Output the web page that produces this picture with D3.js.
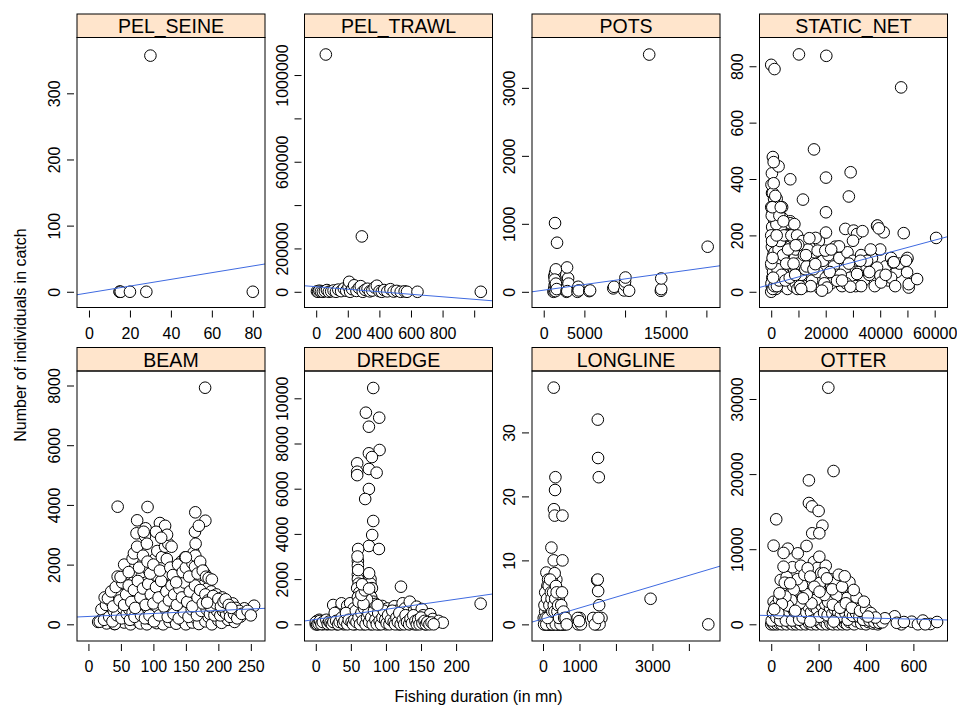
<!DOCTYPE html>
<html>
<head>
<meta charset="utf-8">
<script src="https://cdn.jsdelivr.net/npm/d3@7"></script>
<style>
body { margin: 0; background: #fff; }
svg { font-family: "Liberation Sans", Arial, Helvetica, sans-serif; }
</style>
</head>
<body>
<svg id="chart" width="957" height="708"></svg>
<script>
const gears = ['PEL_SEINE', 'PEL_TRAWL', 'POTS', 'STATIC_NET', 'BEAM', 'DREDGE', 'LONGLINE', 'OTTER'];

// axis limits
const xLims = [[-5.85, 85.95], [-74, 1116], [-1441, 21675], [-4301, 64706],
               [-17.6, 271.8], [-16.1, 251.9], [-302, 4854], [-49.5, 744]];
const yLims = [[-23.8, 384.4], [-72500, 1173200], [-231, 3741], [-55.8, 902],
               [-559, 8486], [-739, 11208], [-2.6, 39.6], [-2224, 33728]];

const xTicks = [[0, 20, 40, 60, 80], [0, 200, 400, 600, 800, 1000], [0, 5000, 10000, 15000, 20000],
                [0, 10000, 20000, 30000, 40000, 50000, 60000], [0, 50, 100, 150, 200, 250],
                [0, 50, 100, 150, 200], [0, 1000, 2000, 3000, 4000], [0, 200, 400, 600]];
const xTickLabels = [['0', '20', '40', '60', '80'], ['0', '200', '400', '600', '800', ''],
                     ['0', '5000', '', '15000', ''], ['0', '', '20000', '', '40000', '', '60000'],
                     ['0', '50', '100', '150', '200', '250'], ['0', '50', '100', '150', '200'],
                     ['0', '1000', '', '3000', ''], ['0', '200', '400', '600']];
const yTicks = [[0, 100, 200, 300], [0, 200000, 400000, 600000, 800000, 1000000], [0, 1000, 2000, 3000],
                [0, 200, 400, 600, 800], [0, 2000, 4000, 6000, 8000], [0, 2000, 4000, 6000, 8000, 10000],
                [0, 10, 20, 30], [0, 10000, 20000, 30000]];
const yTickLabels = [['0', '100', '200', '300'], ['0', '200000', '', '600000', '', '1000000'],
                     ['0', '1000', '2000', '3000'], ['0', '200', '400', '600', '800'],
                     ['0', '2000', '4000', '6000', '8000'], ['0', '2000', '4000', '6000', '8000', '10000'],
                     ['0', '10', '20', '30'], ['0', '10000', '20000', '30000']];

// linear fit [intercept, slope] per gear
const fitLines = [[-1.54, 0.5065], [23400, -58.2], [23.9, 0.01657], [26.5, 0.00261],
                  [262.7, 1.005], [218, 4.459], [0.87, 0.001695], [1159, -0.788]];

// [duration, count]
const pelSeine = [[15, 0], [15, 0], [15.5, 0], [20, 0], [28, 0], [80, 0], [30, 357]];

const pelTrawl = [[5, 2000], [12, 0], [20, 5000], [30, 1000], [42, 0], [55, 3000], [68, 8000], [80, 0], [95, 2000],
  [110, 6000], [125, 0], [140, 10000], [158, 3000], [175, 15000], [190, 5000], [205, 22000], [209, 46000], [215, 0],
  [228, 12000], [240, 30000], [255, 4000], [270, 18000], [282, 26000], [295, 0], [310, 9000], [325, 14000], [340, 2000],
  [355, 6000], [370, 20000], [384, 28000], [400, 3000], [415, 0], [430, 8000], [450, 2000], [470, 12000], [490, 1000],
  [510, 4000], [535, 0], [560, 2000], [575, 0], [641, 0], [1042, 0], [61, 1094700], [289, 255400]];

const pots = [[1200, 0], [1250, 20], [1300, 50], [1350, 100], [1400, 150], [1450, 200], [1300, 230], [1400, 280],
  [1500, 330], [1450, 10], [1550, 60], [1350, 180], [1500, 120], [1600, 40], [1392, 1011], [1638, 722], [2800, 0],
  [2850, 30], [2900, 80], [2950, 150], [3000, 200], [2870, 358], [3050, 120], [2900, 10], [4150, 0], [4200, 40],
  [4250, 74], [4300, 20], [5600, 10], [5700, 20], [8550, 50], [8650, 74], [9900, 20], [9975, 100], [10000, 150],
  [10050, 210], [10500, 15], [14400, 15], [14450, 40], [14450, 196], [12968, 3490], [20160, 663]];

const staticNet = [[0, 0], [200, 20], [400, 50], [600, 100], [800, 150], [1000, 200], [1200, 250], [1500, 300],
  [300, 350], [500, 280], [700, 220], [900, 160], [1100, 120], [1300, 80], [1500, 40], [1700, 10], [2000, 60],
  [2200, 110], [2400, 170], [2600, 230], [2800, 290], [3000, 30], [3300, 90], [3600, 140], [3900, 200], [4200, 260],
  [4500, 20], [4800, 70], [5100, 130], [5400, 180], [5700, 240], [6000, 10], [6300, 60], [6600, 110], [6900, 160],
  [7200, 40], [7500, 90], [7800, 140], [8100, 20], [8400, 70], [8700, 120], [9000, 30], [9300, 80], [9600, 10],
  [9900, 50], [100, 380], [250, 420], [1000, 300], [2000, 330], [2500, 260], [3500, 230], [4000, 100], [5000, 50],
  [6000, 200], [7000, 250], [8000, 190], [9000, 150], [10000, 100], [11000, 60], [12000, 130], [13000, 20],
  [14000, 90], [15000, 40], [16000, 140], [17000, 70], [18000, 10], [19000, 110], [20000, 50], [21000, 130],
  [22000, 30], [23000, 90], [24000, 60], [25000, 120], [26000, 20], [27000, 80], [28000, 140], [29000, 50],
  [30000, 110], [31000, 20], [32000, 70], [33000, 130], [34000, 40], [35000, 90], [36000, 60], [37000, 120],
  [38000, 20], [39000, 80], [40000, 150], [42000, 90], [43000, 40], [44000, 120], [46000, 70], [47000, 100],
  [100, 30], [150, 90], [250, 160], [350, 230], [450, 300], [550, 10], [650, 70], [750, 130], [850, 190], [950, 260],
  [1050, 330], [1150, 20], [1250, 140], [1350, 200], [1450, 270], [1600, 100], [1800, 180], [1900, 240], [2100, 20],
  [2300, 80], [2700, 150], [2900, 40], [3200, 180], [3800, 60], [4300, 130], [4700, 200], [5200, 40], [5500, 100],
  [6200, 150], [6800, 50], [7400, 200], [8200, 100], [8800, 60], [9500, 200], [10500, 20], [11500, 180], [12500, 80],
  [13500, 150], [14500, 20], [0, 100], [0, 200], [0, 300], [200, 270], [600, 350], [300, 180], [500, 120], [700, 50],
  [3000, 270], [2000, 200], [4000, 300], [11000, 10], [13000, 90], [15500, 80], [17500, 180], [19500, 30],
  [21500, 70], [23500, 160], [25500, 60], [27500, 30], [28500, 100], [33000, 20], [36500, 150], [44000, 50],
  [45500, 20],
  [16290, 191], [17030, 146], [12750, 130], [9925, 166], [6984, 243], [16170, 98], [19850, 146], [20100, 210],
  [24880, 161], [27200, 223], [30260, 217], [31490, 205], [30020, 181], [35180, 110], [38850, 86], [40070, 57],
  [40320, 33], [41290, 211], [38850, 234], [44730, 104], [48640, 208], [49870, 116], [49870, 69], [50480, 15],
  [50480, 27], [53550, 45], [60540, 191], [31490, 63], [32720, 110], [29040, 18], [24150, 39], [20470, 15],
  [18640, 4], [0, 805], [1200, 790], [10180, 842], [20220, 837], [47680, 725], [15700, 505], [20100, 405],
  [29150, 424], [28500, 338], [20100, 282], [11650, 327], [7000, 399], [2700, 445], [600, 478], [900, 460],
  [900, 385], [400, 300], [1500, 340], [3500, 300], [4500, 250], [8500, 240], [9000, 165], [14000, 190],
  [33500, 215], [39000, 235], [39500, 225], [50000, 120], [49500, 110], [45000, 105], [42000, 60], [36000, 70],
  [22000, 150], [26000, 40]];

const beam = [[15, 80], [22, 200], [28, 30], [35, 350], [40, 10], [45, 150], [50, 420], [55, 60], [60, 250], [65, 0],
  [70, 380], [75, 120], [80, 30], [85, 300], [90, 0], [95, 180], [100, 420], [105, 40], [110, 260], [115, 0],
  [120, 350], [125, 90], [130, 200], [135, 20], [140, 400], [145, 120], [150, 0], [155, 300], [160, 60], [165, 210],
  [170, 10], [175, 380], [180, 100], [185, 250], [190, 0], [195, 330], [200, 130], [205, 50], [210, 280], [215, 150],
  [220, 400], [225, 80], [230, 300], [234, 255], [240, 536], [255, 623], [40.7, 10], [17.5, 87], [30, 370],
  [20, 500], [24, 150], [27, 650], [32, 250], [33, 800], [37, 100], [39, 450], [43, 700], [44, 300], [47, 1000],
  [51, 200], [53, 550], [57, 850], [59, 350], [61, 1100], [63, 500], [64, 150], [67, 900], [68, 400], [69, 1400],
  [71, 250], [73, 800], [74, 1700], [77, 500], [79, 1200], [81, 300], [82, 1600], [83, 700], [86, 1000], [87, 200],
  [89, 1400], [91, 550], [93, 1800], [94, 300], [97, 1200], [98, 800], [99, 1500], [101, 100], [102, 1000],
  [103, 2200], [105, 600], [107, 1600], [109, 300], [111, 1100], [113, 700], [114, 2000], [117, 1300], [119, 500],
  [121, 1700], [122, 250], [125, 1100], [127, 600], [129, 1900], [131, 350], [133, 1400], [134, 800], [137, 1100],
  [139, 200], [141, 1600], [142, 600], [143, 2100], [146, 1000], [147, 400], [149, 1700], [151, 800], [153, 1300],
  [154, 250], [157, 900], [158, 1500], [159, 500], [161, 1100], [162, 2400], [163, 700], [166, 1600], [167, 300],
  [169, 1200], [171, 800], [173, 1900], [174, 450], [177, 1300], [178, 900], [179, 1700], [182, 500], [183, 1200],
  [186, 900], [187, 350], [189, 1100], [191, 550], [193, 800], [194, 300], [197, 1000], [198, 450], [201, 700],
  [203, 300], [206, 900], [207, 450], [209, 600], [212, 350], [213, 700], [217, 450], [218, 250], [222, 700],
  [224, 350], [227, 550], [229, 200], [232, 450], [236, 350], [245, 450], [250, 300],
  [25, 900], [30, 871], [35, 1100], [38, 600], [42, 1250], [48, 800], [52, 1400], [55, 650], [58, 1000], [62, 1300],
  [66, 750], [70, 1150], [72, 550], [76, 1450], [80, 900], [84, 1200], [88, 650], [92, 1350], [96, 1000], [100, 700],
  [104, 1250], [108, 900], [112, 1450], [116, 600], [120, 1100], [124, 800], [128, 1300], [132, 1000], [136, 650],
  [140, 1200], [144, 900], [148, 1400], [152, 750], [156, 1100], [160, 600], [164, 1300], [168, 900], [172, 1150],
  [176, 700], [180, 1000], [184, 800], [188, 600], [192, 950], [196, 700], [200, 850], [204, 600], [208, 750],
  [211, 837], [216, 650], [220, 550], [182.7, 724],
  [45, 1600], [49.5, 1585], [55, 2000], [62, 1750], [68, 2200], [70, 2378], [75, 2600], [74, 3048], [78, 1900],
  [84, 2300], [87, 2960], [88, 3216], [90, 2700], [91, 2100], [95, 1700], [100, 2000], [106, 2455], [110, 1800],
  [113, 2250], [118, 2600], [120.7, 2188], [123, 2700], [126, 1900], [130, 1650], [135, 1407], [138, 2000],
  [145, 1750], [149, 2245], [150, 1900], [155, 1600], [160, 2050], [164, 1930], [164.5, 2300], [165, 2700],
  [168, 1700], [172, 2100], [176, 1800], [181, 1595], [185, 1550], [190, 1500],
  [45, 3940], [91, 3930], [75, 3484], [110, 3393], [118, 3300], [121, 3000], [164.5, 3752], [180, 3470],
  [164, 3100], [179.6, 7926], [85, 3100], [104, 3100], [112, 2900], [128, 2600], [150, 2244], [170, 3300]];

const dredge = [[0, 0], [1, 50], [2, 150], [3, 0], [4, 100], [5, 200], [6, 30], [8, 80], [10, 0], [12, 120], [14, 40],
  [16, 0], [18, 60], [20, 10], [22, 150], [24.8, 854], [26, 40], [28, 300], [30, 0], [31.9, 560], [33, 200], [35, 50],
  [36.7, 929], [38, 400], [40, 0], [42, 250], [44.8, 823], [46, 100], [48, 600], [49, 930], [50, 30], [52, 350],
  [54, 700], [56, 0], [58, 450], [59, 190], [62, 80], [64, 600], [66, 250], [68, 0], [70, 400], [72, 750], [74, 150],
  [77, 708], [78, 0], [80, 500], [82, 280], [84, 60], [86, 850], [88, 350], [90, 0], [92, 600], [94.8, 810], [96, 115],
  [98, 400], [100, 0], [102, 700], [104, 250], [106, 500], [108, 50], [110, 350], [112, 800], [114, 150], [116, 600],
  [118, 0], [120, 10], [122, 450], [123.8, 929], [125, 300], [127, 700], [129, 100], [131, 550], [134, 1000],
  [134, 10], [136, 400], [138, 200], [140, 600], [141, 0], [143.8, 779], [145, 300], [147, 50], [151, 677],
  [151, 110], [153, 400], [156, 0], [158, 250], [160, 100], [163, 450], [166.7, 235], [170, 50], [175, 150], [181, 71],
  [0, 100], [2, 0], [4, 30], [6, 150], [8, 10], [10, 100], [15, 200], [17, 20], [19, 120], [21, 60], [23, 0],
  [25, 100], [27, 500], [29, 150], [32, 0], [34, 100], [37, 300], [39, 50], [41, 150], [43, 500], [45, 0], [47, 200],
  [51, 100], [53, 0], [55, 200], [57, 600], [58, 100], [61, 300], [63, 0], [65, 500], [67, 150], [69, 700], [71, 0],
  [73, 300], [75, 500], [76, 100], [79, 300], [81, 0], [83, 600], [85, 200], [87, 0], [89, 500], [91, 150], [93, 0],
  [95, 300], [97, 600], [99, 200], [101, 50], [103, 400], [105, 0], [107, 200], [109, 600], [111, 100], [113, 0],
  [115, 300], [117, 100], [119, 500], [121, 0], [124, 200], [126, 0], [128, 400], [130, 100], [133, 0], [135, 250],
  [137, 50], [139, 400], [142, 150], [144, 0], [146, 200], [148, 0], [150, 300], [152, 50], [155, 150], [157, 0],
  [159, 100], [162, 0], [165, 80], [168, 0],
  [60, 2800], [60, 2600], [60, 2200], [60, 2000], [61, 1800], [59, 1600], [62, 1400], [60, 1200], [61, 1000],
  [78, 2000], [78, 1800], [80, 1600], [76, 1400], [79, 1200], [82, 1000], [85, 900], [88, 850], [73, 1100],
  [68, 900], [65, 1300], [70, 1500],
  [81.9, 10456], [71.4, 9363], [90.4, 9142], [75.7, 8743], [90.9, 7712], [75.7, 7566], [80, 7400], [59, 7124],
  [59, 6752], [59, 6600], [75.7, 6872], [86.7, 6708], [75.7, 5987], [70.4, 5544], [81.9, 4571], [80.4, 3951],
  [75.7, 3465], [90, 3332], [60.4, 3332], [59.5, 3000], [60.4, 2400], [76, 2260], [66, 1770], [76, 1580],
  [121.4, 1664], [235, 912]];

const longline = [[93, 8.1], [140, 7], [365, 7], [203, 4.9], [184, 2.9], [330, 1.6], [458, 2.9], [533, 0], [110, 0],
  [50, 0], [20, 1], [60, 2], [80, 3], [100, 5], [120, 6], [150, 4], [170, 0], [190, 1], [210, 3], [230, 0], [250, 6],
  [270, 2], [290, 4], [310, 0], [330, 5], [350, 1], [370, 3], [390, 0], [410, 2], [430, 4], [450, 0], [470, 1],
  [490, 2], [510, 0], [550, 1], [570, 0], [600, 0], [260, 0], [280, 1], [140, 0], [160, 2], [180, 5], [200, 0],
  [220, 2], [240, 7], [320, 8], [300, 6], [380, 1], [420, 0], [30, 0], [70, 1], [90, 0], [130, 3], [250, 0], [350, 0],
  [480, 0], [40, 3], [60, 5], [110, 4], [125, 1], [155, 6], [175, 3], [195, 7], [215, 5], [235, 4], [255, 2],
  [275, 5], [295, 3], [315, 2], [335, 4], [355, 6], [375, 5], [395, 2], [415, 3], [440, 1], [500, 3], [520, 5],
  [560, 2], [580, 1], [620, 1], [650, 0],
  [963, 0], [1008, 1], [950, 1], [1040, 0], [990, 0.5], [1485, 6.9], [1512, 5.2], [1540, 3], [1375, 1],
  [1604, 1], [1466, 0], [1500, 7], [1550, 0], [1420, 0], [1520, 1],
  [294, 37], [1503, 32], [1510, 26], [1530, 23], [340, 23], [330, 21], [300, 18], [320, 17], [533, 17], [230, 12],
  [294, 10], [533, 10], [2950, 4], [4533, 0]];

const otter = [[0, 0], [5, 200], [8, 800], [12, 0], [15, 1200], [20, 300], [25, 0], [30, 700], [35, 100], [40, 1500],
  [45, 0], [50, 900], [55, 300], [60, 1200], [65, 0], [70, 600], [75, 1500], [80, 200], [85, 900], [90, 0], [95, 1300],
  [100, 400], [105, 0], [110, 1000], [115, 200], [120, 1600], [125, 0], [130, 700], [135, 300], [140, 1200], [145, 0],
  [150, 800], [155, 1800], [160, 100], [165, 1000], [170, 0], [175, 600], [180, 1400], [185, 300], [190, 0],
  [195, 900], [200, 1700], [205, 200], [210, 600], [215, 0], [220, 1100], [225, 300], [230, 1900], [235, 0],
  [240, 700], [245, 1300], [250, 100], [255, 800], [260, 0], [265, 1500], [270, 400], [275, 900], [280, 0],
  [285, 1200], [290, 300], [295, 700], [300, 0], [305, 1000], [310, 200], [315, 500], [320, 0], [325, 900],
  [330, 300], [340, 700], [350, 0], [360, 400], [370, 800], [380, 100], [390, 500], [400, 0], [410, 300], [420, 700],
  [430, 100], [440, 400], [450, 0],
  [2, 500], [7, 1500], [10, 3000], [18, 2500], [22, 900], [27, 2200], [33, 3300], [38, 500], [43, 2000], [48, 3500],
  [53, 1800], [58, 2600], [62, 500], [67, 3000], [72, 1800], [78, 4000], [83, 2300], [88, 500], [93, 2800],
  [98, 1700], [103, 3600], [108, 2300], [113, 4400], [118, 600], [123, 3200], [128, 2000], [133, 900], [138, 2600],
  [143, 4800], [148, 1600], [153, 3000], [158, 2300], [163, 5200], [168, 1600], [173, 3800], [178, 2400], [183, 600],
  [188, 4200], [193, 2000], [198, 2900], [203, 1000], [208, 3600], [213, 2500], [218, 4800], [223, 1500],
  [228, 2700], [233, 4300], [238, 1200], [243, 3400], [248, 2200], [253, 5000], [258, 1400], [263, 3100],
  [268, 2000], [273, 700], [278, 2800], [283, 1600], [288, 4200], [293, 1100], [298, 3000], [303, 2000], [308, 3800],
  [313, 1500], [318, 2300], [323, 600], [328, 4000], [333, 1400], [338, 3000], [345, 1100], [352, 2500], [358, 1500],
  [365, 2800], [372, 1000], [380, 2200], [388, 600], [395, 1300], [405, 1400], [415, 500], [425, 1000], [435, 300],
  [445, 700], [455, 200],
  [469, 266], [521, 1065], [549, 0], [593, 346], [619, 0], [672, 40], [700, 306], [480, 800], [530, 200], [560, 300],
  [640, 500], [650, 0],
  [180, 8300], [195, 7500], [210, 6800], [230, 7800], [250, 6000], [270, 5500], [285, 6600], [300, 4000],
  [320, 3500], [330, 5600], [275, 3800], [240, 3000], [190, 3300], [170, 2800], [150, 4000], [130, 5200],
  [120, 2800], [110, 6000], [95, 4600], [85, 3200], [70, 2500], [60, 3700], [45, 2700], [30, 1500], [40, 5900],
  [65, 6300], [90, 7600], [125, 7800], [140, 6600], [205, 5500], [225, 3900], [260, 2600], [290, 2200], [315, 2800],
  [340, 2200], [360, 3600], [375, 1800], [400, 2000], [420, 1500], [440, 900],
  [241, 31505], [263, 20410], [159, 19170], [159, 16150], [172, 15700], [200, 15090], [216, 13130], [173, 12120],
  [203, 12120], [21, 13980], [10, 10470], [70, 10070], [52, 9500], [112, 9450], [149, 10430], [52, 7670], [203, 9000],
  [57, 5540], [80, 5460], [154, 7460], [165, 6360], [182, 5000], [204, 4340], [221, 6790], [235, 6120], [257, 4660],
  [299, 5000], [310, 6390], [348, 4570], [391, 3010], [35, 4130], [134, 3460], [12.7, 2000], [101, 1800],
  [408, 1030], [264, 370], [165, 370]];

const points = [pelSeine, pelTrawl, pots, staticNet, beam, dredge, longline, otter];

const panelLeft = [77, 304.5, 532, 759.5];
const panelW = 188;
const stripTop = [14, 347.5];
const stripH = 23.5;
const boxH = 270;

const svg = d3.select('#chart');

gears.forEach((gear, i) => {
    const col = i % 4;
    const row = Math.floor(i / 4);
    const x0 = panelLeft[col];
    const top = stripTop[row] + stripH;
    const bottom = top + boxH;
    const xScale = d3.scaleLinear().domain(xLims[i]).range([x0, x0 + panelW]);
    const yScale = d3.scaleLinear().domain(yLims[i]).range([bottom, top]);
    const g = svg.append('g');

    g.append('clipPath').attr('id', 'clip' + i)
        .append('rect').attr('x', x0).attr('y', top).attr('width', panelW).attr('height', boxH);

    // strip
    g.append('rect')
        .attr('x', x0).attr('y', stripTop[row])
        .attr('width', panelW).attr('height', stripH)
        .attr('fill', '#ffe5cc').attr('stroke', '#000');
    g.append('text')
        .attr('x', x0 + panelW / 2).attr('y', stripTop[row] + 19)
        .attr('text-anchor', 'middle').attr('font-size', 19.5)
        .text(gear);

    // points
    g.append('g').attr('clip-path', 'url(#clip' + i + ')')
        .selectAll('circle')
        .data(points[i])
        .enter()
        .append('circle')
        .attr('cx', d => xScale(d[0]))
        .attr('cy', d => yScale(d[1]))
        .attr('r', 5.8)
        .attr('fill', '#fff')
        .attr('stroke', '#000')
        .attr('stroke-width', 1);

    // fitted line
    const [a, b] = fitLines[i];
    g.append('line')
        .attr('clip-path', 'url(#clip' + i + ')')
        .attr('x1', xScale(xLims[i][0])).attr('y1', yScale(a + b * xLims[i][0]))
        .attr('x2', xScale(xLims[i][1])).attr('y2', yScale(a + b * xLims[i][1]))
        .attr('stroke', '#3f6ae0').attr('stroke-width', 1);

    // box
    g.append('rect')
        .attr('x', x0).attr('y', top)
        .attr('width', panelW).attr('height', boxH)
        .attr('fill', 'none').attr('stroke', '#000');

    // x axis
    const xAxis = d3.axisBottom(xScale)
        .tickValues(xTicks[i])
        .tickFormat((d, k) => xTickLabels[i][k])
        .tickSizeInner(7).tickSizeOuter(0).tickPadding(10);
    const gx = g.append('g')
        .attr('transform', 'translate(0,' + (bottom + 3) + ')')
        .call(xAxis);
    gx.select('.domain').remove();
    gx.selectAll('text').attr('font-size', 16).attr('font-family', null).attr('fill', '#000');
    gx.selectAll('line').attr('stroke', '#000');

    // y axis
    const yAxis = d3.axisLeft(yScale)
        .tickValues(yTicks[i])
        .tickFormat((d, k) => yTickLabels[i][k])
        .tickSizeInner(7).tickSizeOuter(0);
    const gy = g.append('g')
        .attr('transform', 'translate(' + (x0 - 3) + ',0)')
        .call(yAxis);
    gy.select('.domain').remove();
    gy.selectAll('line').attr('stroke', '#000');
    gy.selectAll('text')
        .attr('font-size', 16).attr('font-family', null).attr('fill', '#000')
        .attr('dy', null).attr('x', null)
        .attr('text-anchor', 'middle')
        .attr('transform', 'translate(-14,0) rotate(-90)');
});

svg.append('text')
    .attr('x', 478.5).attr('y', 702)
    .attr('text-anchor', 'middle').attr('font-size', 16)
    .text('Fishing duration (in mn)');

svg.append('text')
    .attr('transform', 'translate(26,335) rotate(-90)')
    .attr('text-anchor', 'middle').attr('font-size', 16)
    .text('Number of individuals in catch');
</script>
</body>
</html>
